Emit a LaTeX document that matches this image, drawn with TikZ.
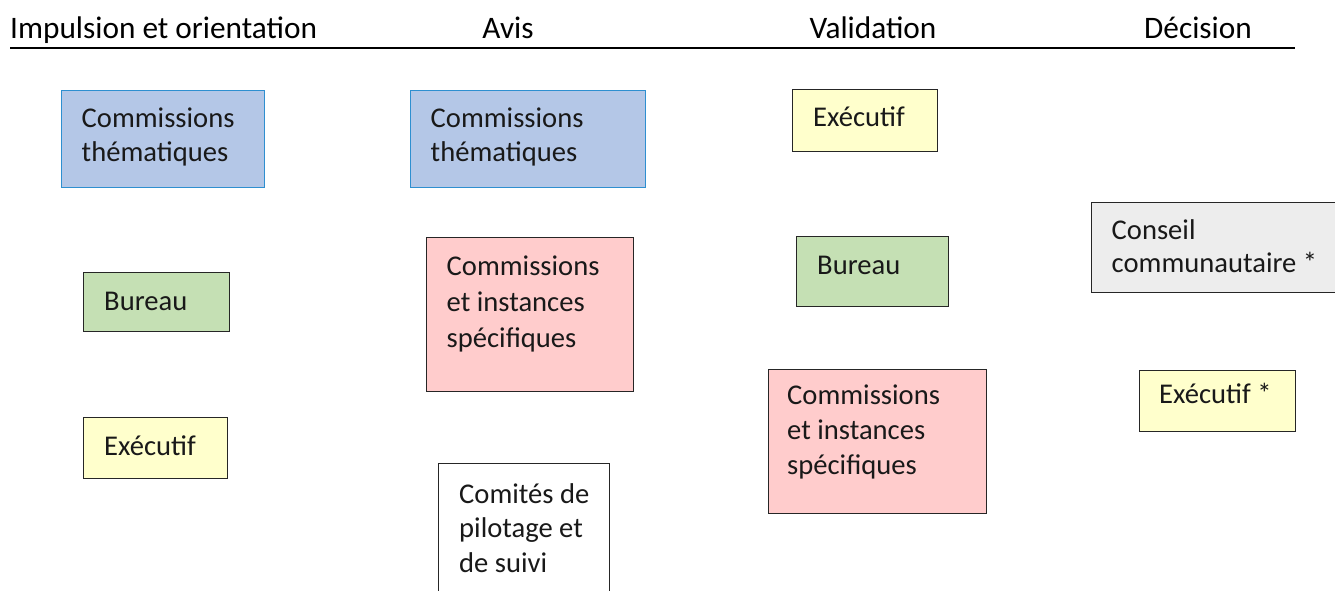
\documentclass[tikz,border=0pt]{standalone}
\usepackage{fontspec}
\setmainfont{Carlito}
\definecolor{blueF}{HTML}{B4C7E7}
\definecolor{blueB}{HTML}{2E8FD0}
\definecolor{greenF}{HTML}{C5E0B4}
\definecolor{yellowF}{HTML}{FFFFCC}
\definecolor{redF}{HTML}{FFCCCC}
\definecolor{grayF}{HTML}{EDEDED}
\newcommand\boxlines[2]{\parbox[t]{260pt}{\fontsize{28.6}{#1}\selectfont #2}}
\begin{document}
\begin{tikzpicture}[x=1pt,y=-1pt,
  head/.style={font=\fontsize{31.3}{36}\selectfont, inner sep=0, anchor=base},
  boxshape/.style={draw=black!85, line width=1.2pt, anchor=north west, inner sep=0},
  txt/.style={font=\fontsize{28.6}{35}\selectfont, inner sep=0, anchor=base west, text=black!90}]
\useasboundingbox (0,0) rectangle (1335,590);
\clip (0,0) rectangle (1335,590);
\fill[white] (0,0) rectangle (1335,590);

% header
\node[head, anchor=base west] (h1) at (10,38) {Impulsion et orientation};
\node[head] (h2) at (508,38) {Avis};
\node[head] (h3) at (873,38) {Validation};
\node[head] (h4) at (1198,38) {Décision};
\coordinate (l1) at (10,48);
\coordinate (l2) at (1295,48);
\draw[line width=2pt] (l1) -- (l2);

% column 1
\node[boxshape, fill=blueF, draw=blueB, minimum width=203, minimum height=97] (b1) at (61,90) {};
\node[txt] (t1) at (81.5,127.7) {\boxlines{34}{Commissions\\thématiques}};
\node[boxshape, fill=greenF, minimum width=146, minimum height=59] (b2) at (83,272) {};
\node[txt] (t2) at (104,310.7) {Bureau};
\node[boxshape, fill=yellowF, minimum width=144, minimum height=61] (b3) at (83,417) {};
\node[txt] (t3) at (104,455) {Exécutif};

% column 2
\node[boxshape, fill=blueF, draw=blueB, minimum width=235, minimum height=97] (b4) at (410,90) {};
\node[txt] (t4) at (430.5,127.7) {\boxlines{34}{Commissions\\thématiques}};
\node[boxshape, fill=redF, minimum width=207, minimum height=154] (b5) at (426,237) {};
\node[txt] (t5) at (446.5,275.7) {\boxlines{36}{Commissions\\et instances\\spécifiques}};
\node[boxshape, fill=white, minimum width=171, minimum height=140] (b6) at (438,463) {};
\node[txt] (t6) at (459,503.3) {\boxlines{34.5}{Comités de\\pilotage et\\de suivi}};

% column 3
\node[boxshape, fill=yellowF, minimum width=145, minimum height=62] (b7) at (792,89) {};
\node[txt] (t7) at (813,126.7) {Exécutif};
\node[boxshape, fill=greenF, minimum width=152, minimum height=70] (b8) at (796,236) {};
\node[txt] (t8) at (817,274.3) {Bureau};
\node[boxshape, fill=redF, minimum width=218, minimum height=144] (b9) at (768,369) {};
\node[txt] (t9) at (787,404.3) {\boxlines{35}{Commissions\\et instances\\spécifiques}};

% column 4
\node[boxshape, fill=grayF, minimum width=260, minimum height=90] (b10) at (1091,202) {};
\node[txt] (t10) at (1111.5,239.3) {\boxlines{33.5}{Conseil\\communautaire *}};
\node[boxshape, fill=yellowF, minimum width=156, minimum height=61] (b11) at (1139,370) {};
\node[txt] (t11) at (1159,403.3) {Exécutif *};
\end{tikzpicture}
\end{document}
